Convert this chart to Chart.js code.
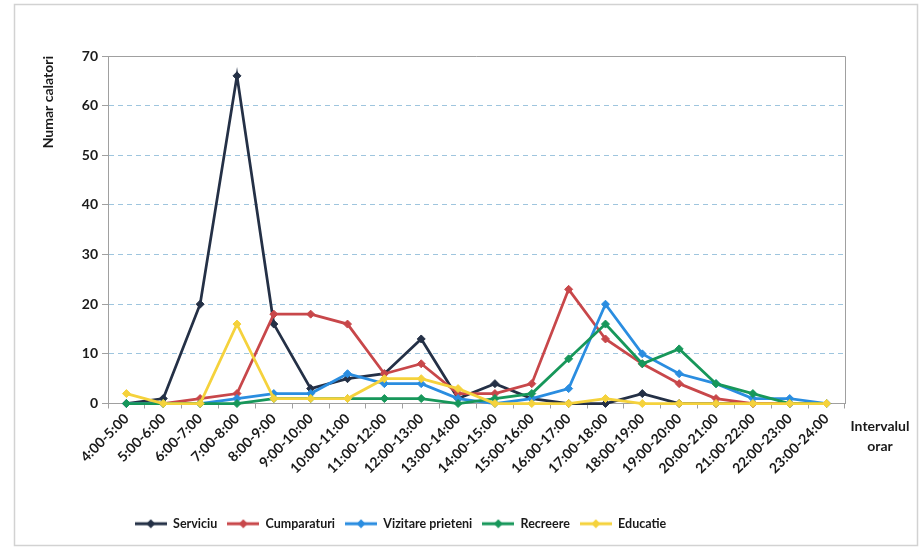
<!DOCTYPE html>
<html><head><meta charset="utf-8">
<script src="https://cdn.jsdelivr.net/npm/chart.js@4/dist/chart.umd.min.js"></script>
<style>html,body{margin:0;padding:0;background:#fff;}#wrap{width:920px;height:552px;position:relative;}</style>
</head><body><div id="wrap"><canvas id="c" width="920" height="552"></canvas></div>
<script>
const categories = ['4:00-5:00','5:00-6:00','6:00-7:00','7:00-8:00','8:00-9:00','9:00-10:00','10:00-11:00','11:00-12:00','12:00-13:00','13:00-14:00','14:00-15:00','15:00-16:00','16:00-17:00','17:00-18:00','18:00-19:00','19:00-20:00','20:00-21:00','21:00-22:00','22:00-23:00','23:00-24:00'];
const serviciu    = [0,1,20,66,16,3,5,6,13,1,4,1,0,0,2,0,0,0,0,0];
const cumparaturi = [0,0,1,2,18,18,16,6,8,2,2,4,23,13,8,4,1,0,0,0];
const vizitare    = [0,0,0,1,2,2,6,4,4,1,0,1,3,20,10,6,4,1,1,0];
const recreere    = [0,0,0,0,1,1,1,1,1,0,1,2,9,16,8,11,4,2,0,0];
const educatie    = [2,0,0,16,1,1,1,5,5,3,0,0,0,1,0,0,0,0,0,0];
const seriesNames = ['Serviciu','Cumparaturi','Vizitare prieteni','Recreere','Educatie'];
const yTicks = [0,10,20,30,40,50,60,70];
const xTitleLines = ['Intervalul','orar'];
const yTitle = 'Numar calatori';

const colors = ['#243046','#c8474a','#2a8de0','#17975a','#f5d23c'];
const FONT = 'Lato';

function legendImg(color){
  const c=document.createElement('canvas'); c.width=32; c.height=10;
  const g=c.getContext('2d');
  g.strokeStyle=color; g.lineWidth=3;
  g.beginPath(); g.moveTo(0,5); g.lineTo(32,5); g.stroke();
  g.fillStyle=color; g.beginPath();
  g.moveTo(16,0.5); g.lineTo(20.5,5); g.lineTo(16,9.5); g.lineTo(11.5,5); g.closePath(); g.fill();
  return c;
}
const imgs = colors.map(legendImg);

const allData = [serviciu,cumparaturi,vizitare,recreere,educatie];
const datasets = allData.map((d,i)=>({
  label: seriesNames[i],
  data: d,
  borderColor: colors[i],
  backgroundColor: colors[i],
  pointBackgroundColor: colors[i],
  pointBorderColor: colors[i],
  pointBorderWidth: 1,
  pointStyle: 'rectRot',
  pointRadius: 4,
  borderWidth: 2.75,
  tension: 0,
  fill: false,
  clip: false,
  order: allData.length - 1 - i
}));

const framePlugin = {
  id: 'frame',
  afterLayout(chart){
    chart.legend.left -= 40; chart.legend.right -= 40;
  },
  beforeDraw(chart){
    const ctx = chart.ctx;
    ctx.save();
    ctx.strokeStyle = '#d2d2d2'; ctx.lineWidth = 1.5;
    ctx.strokeRect(14.5, 4.5, 903, 541);
    ctx.restore();
  },
  afterDraw(chart){
    const ctx = chart.ctx, a = chart.chartArea;
    ctx.save();
    ctx.strokeStyle = '#a0a0a0'; ctx.lineWidth = 1;
    ctx.beginPath();
    ctx.moveTo(a.left, a.top+0.5); ctx.lineTo(a.right+0.5, a.top+0.5); ctx.lineTo(a.right+0.5, a.bottom);
    ctx.stroke();
    ctx.fillStyle = '#1a1a1a';
    ctx.font = 'bold 14px ' + FONT;
    ctx.textAlign = 'center'; ctx.textBaseline = 'middle';
    ctx.fillText(xTitleLines[0], 880, 426);
    ctx.fillText(xTitleLines[1], 880, 446);
    ctx.restore();
  }
};

new Chart(document.getElementById('c'), {
  type: 'line',
  data: { labels: categories, datasets },
  plugins: [framePlugin],
  options: {
    responsive: false,
    animation: false,
    layout: { padding: { left: 36, right: 75, top: 56, bottom: 12 } },
    plugins: {
      tooltip: { enabled: false },
      legend: {
        position: 'bottom',
        labels: {
          usePointStyle: true,
          pointStyleWidth: 32,
          padding: 10,
          color: '#1a1a1a',
          font: { family: FONT, size: 12.5, weight: 'bold' },
          sort: (a,b) => a.datasetIndex - b.datasetIndex,
          generateLabels(chart){
            const items = Chart.defaults.plugins.legend.labels.generateLabels(chart);
            items.forEach(it => { it.pointStyle = imgs[it.datasetIndex]; });
            return items;
          }
        }
      }
    },
    scales: {
      x: {
        offset: true,
        afterFit(s){ s.height = 104; },
        grid: { display: true, drawOnChartArea: false, tickLength: 5, tickColor: '#a0a0a0', offset: true },
        border: { display: true, color: '#a0a0a0', width: 1 },
        ticks: {
          autoSkip: false, maxRotation: 45, minRotation: 45, padding: 2,
          color: '#1a1a1a', font: { family: FONT, size: 14, weight: 'bold' }
        }
      },
      y: {
        min: 0, max: 70,
        afterFit(s){ s.width = 72; },
        afterBuildTicks(s){ s.ticks = yTicks.map(v => ({ value: v })); },
        grid: { color: '#9ec5de', lineWidth: 1, tickLength: 6, tickColor: '#a0a0a0', tickBorderDash: [] },
        border: { display: true, color: '#a0a0a0', width: 1, dash: [5,4] },
        ticks: { stepSize: 10, padding: 4, color: '#1a1a1a', font: { family: FONT, size: 14, weight: 'bold' } },
        title: {
          display: true, text: yTitle, align: 'end',
          color: '#1a1a1a', font: { family: FONT, size: 14, weight: 'bold' }
        }
      }
    }
  }
});
</script>
</body></html>
